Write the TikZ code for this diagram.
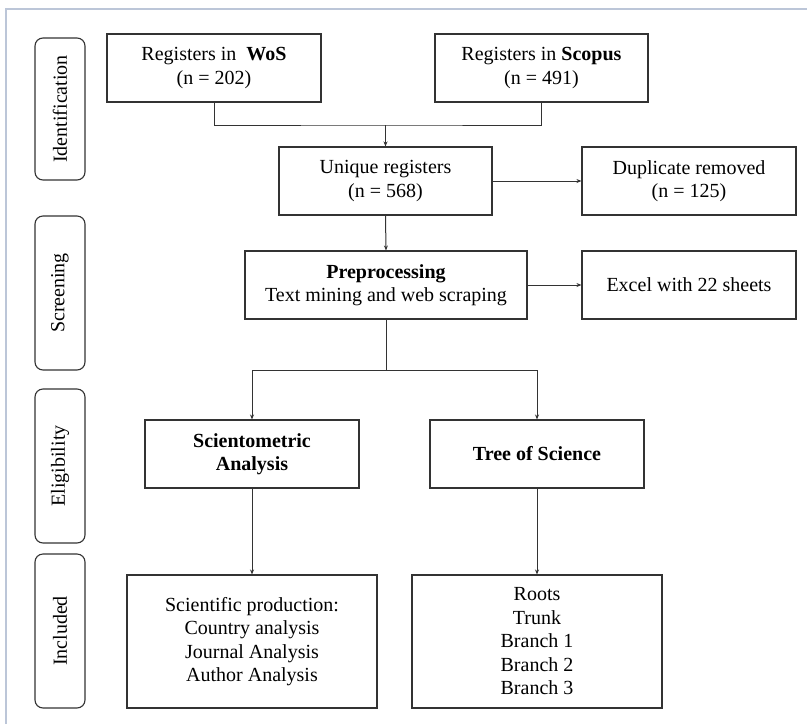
\documentclass[tikz,border=0pt]{standalone}
\usepackage{fontspec}
\setmainfont{Liberation Serif}
\usetikzlibrary{arrows.meta}
\definecolor{edge}{HTML}{333333}
\definecolor{frame}{HTML}{BCC6D8}
\begin{document}
\begin{tikzpicture}[x=1pt,y=-1pt,
  box/.style={draw=edge, line width=1.1pt, fill=white, align=center, inner sep=2pt,
    font=\fontsize{20}{23.5}\selectfont},
  phase/.style={draw=edge, line width=1.1pt, rounded corners=8pt, minimum width=50pt,
    rotate=90, font=\fontsize{20}{22}\selectfont, inner sep=0pt},
  conn/.style={draw=edge, line width=1pt},
  arr/.style={conn, -{Stealth[length=5pt,width=4pt]}}]
\useasboundingbox (0,0) rectangle (807,724);
\fill[white] (0,0) rectangle (807,724);
\draw[frame, line width=2pt] (6,724) -- (6,9) -- (807,9);
% phases
\node[phase, minimum height=50pt, minimum width=142pt] (p1) at (60,109) {Identification};
\node[phase, minimum height=50pt, minimum width=154pt] (p2) at (60,293) {Screening};
\node[phase, minimum height=50pt, minimum width=154pt] (p3) at (60,466) {Eligibility};
\node[phase, minimum height=50pt, minimum width=154pt] (p4) at (60,631) {Included};
% boxes
\node[box, minimum width=214pt, minimum height=68pt] (wos) at (214,68) {Registers in~ \textbf{WoS}\\(n = 202)};
\node[box, minimum width=213pt, minimum height=68pt] (scopus) at (541.5,68) {Registers in \textbf{Scopus}\\(n = 491)};
\node[box, minimum width=213pt, minimum height=68pt] (uniq) at (385.5,181) {Unique registers\\(n = 568)};
\node[box, minimum width=214pt, minimum height=68pt] (dup) at (689,181) {Duplicate removed\\(n = 125)};
\node[box, minimum width=282pt, minimum height=68pt] (pre) at (386,285) {\textbf{Preprocessing}\\Text mining and web scraping};
\node[box, minimum width=214pt, minimum height=68pt] (excel) at (689,285) {Excel with 22 sheets};
\node[box, minimum width=214pt, minimum height=68pt] (sci) at (252,454) {\textbf{Scientometric}\\\textbf{Analysis}};
\node[box, minimum width=214pt, minimum height=68pt] (tree) at (537,454) {\textbf{Tree of Science}};
\node[box, minimum width=250pt, minimum height=133pt] (res1) at (252,641.5) {Scientific production:\\Country analysis\\Journal Analysis\\Author Analysis};
\node[box, minimum width=250pt, minimum height=133pt] (res2) at (537,641.5) {Roots\\Trunk\\Branch 1\\Branch 2\\Branch 3};
% connectors
\coordinate (j1) at (385.5,125);
\coordinate (j2) at (386,370);
\draw[conn] (wos.south) |- (j1) -| (scopus.south);
\draw[arr] (j1) -- (uniq.north);
\draw[arr] (uniq.east) -- (dup.west);
\draw[arr] (uniq.south) -- (pre.north);
\draw[arr] (pre.east) -- (excel.west);
\draw[conn] (pre.south) -- (j2);
\draw[arr] (j2) -| (sci.north);
\draw[arr] (j2) -| (tree.north);
\draw[arr] (sci.south) -- (res1.north);
\draw[arr] (tree.south) -- (res2.north);
\end{tikzpicture}
\end{document}
